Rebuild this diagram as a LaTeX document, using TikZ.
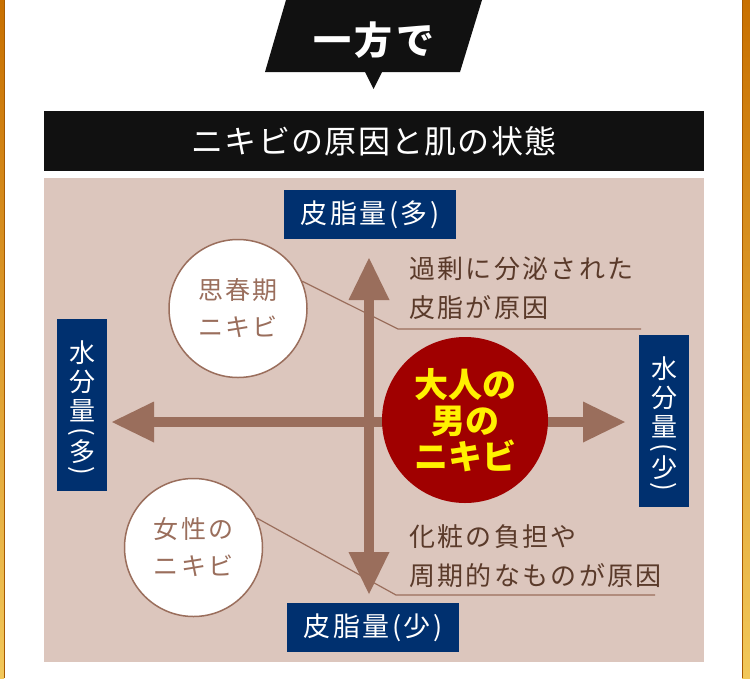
\documentclass[tikz,border=0pt]{standalone}
\usepackage{fontspec}
\newfontfamily\cjk{Noto Sans CJK JP}
\newfontfamily\cjksp[LetterSpace=9]{Noto Sans CJK JP}
\newfontfamily\cjkwide[LetterSpace=4]{Noto Sans CJK JP}
\newfontfamily\cjkbig[LetterSpace=10]{Noto Sans CJK JP}
\usetikzlibrary{arrows.meta}
\definecolor{beige}{HTML}{DCC6BD}
\definecolor{navy}{HTML}{00306F}
\definecolor{brownA}{HTML}{9A6E5C}
\definecolor{darkred}{HTML}{A00000}
\definecolor{yel}{HTML}{FFF100}
\definecolor{txtbrown}{HTML}{5A3A2A}
\definecolor{blk}{HTML}{111111}
\definecolor{goldtop}{HTML}{C87000}
\definecolor{goldbot}{HTML}{F2C85A}
\definecolor{goldline}{HTML}{A85A00}
\tikzset{
  navybox/.style={fill=navy, inner sep=0pt, text=white},
  vchar/.style={text=white, inner sep=0pt, font=\cjk\fontsize{26}{26}\selectfont},
  smallcircle/.style={circle, fill=white, draw=brownA, line width=1.5pt, minimum size=138pt, inner sep=0pt,
    text=brownA, align=center, font=\cjksp\fontsize{25}{37}\selectfont},
  axis/.style={brownA, line width=10pt,
    {Triangle[length=42pt,width=41pt,line width=0pt]}-{Triangle[length=42pt,width=41pt,line width=0pt]}},
  leader/.style={brownA, line width=1.2pt},
  note/.style={text=txtbrown, anchor=west, align=left, inner sep=0pt, font=\cjksp\fontsize{26}{39}\selectfont}
}
\begin{document}
\begin{tikzpicture}[x=1pt, y=-1pt]
\useasboundingbox (0,0) rectangle (750,678);
\fill[white] (0,0) rectangle (750,678);
% gold borders
\shade[top color=goldtop, bottom color=goldbot] (0,0) rectangle (4,678);
\shade[top color=goldtop, bottom color=goldbot] (742,0) rectangle (750,678);
\draw[goldline, line width=1pt] (4,0) -- (4,678);
\draw[goldline, line width=1pt] (742.5,0) -- (742.5,678);
% top banner
\fill[blk] (286,0) -- (482,0) -- (460,72) -- (382,72) -- (373.5,89) -- (365,72) -- (265,72) -- cycle;
\node[text=white, inner sep=0pt, font=\cjkbig\bfseries\fontsize{38}{38}\selectfont] (ippo) at (374,40) {一方で\hspace{-3.8pt}};
% title bar
\node[fill=blk, minimum width=660pt, minimum height=60pt, inner sep=0pt, text=white,
  font=\cjkwide\fontsize{32}{32}\selectfont] (title) at (374,141) {ニキビの原因と肌の状態\hspace{-1.3pt}};
% panel
\fill[beige] (44,178) rectangle (704,662);
% axes
\coordinate (vt) at (369,258);
\coordinate (vb) at (369,594);
\coordinate (hl) at (112,422);
\coordinate (hr) at (625,422);
\draw[axis] (vb) -- (vt);
\draw[axis] (hl) -- (hr);
% navy boxes
\node[navybox, minimum width=172pt, minimum height=49pt, font=\cjksp\fontsize{27}{27}\selectfont] (top) at (370,214.5) {皮脂量(多)};
\node[navybox, minimum width=172pt, minimum height=49pt, font=\cjksp\fontsize{27}{27}\selectfont] (bot) at (373,627.5) {皮脂量(少)};
\node[navybox, minimum width=50pt, minimum height=172pt] (wl) at (82,405) {};
\node[navybox, minimum width=50pt, minimum height=172pt] (wr) at (664,421) {};
\foreach \b/\c in {wl/多, wr/少}{
  \node[vchar] (\b1) at ([yshift=52pt]\b.center) {水};
  \node[vchar] (\b2) at ([yshift=23pt]\b.center) {分};
  \node[vchar] (\b3) at ([yshift=-6pt]\b.center) {量};
  \node[vchar, rotate=-90] (\b4) at ([yshift=-27pt]\b.center) {(};
  \node[vchar] (\b5) at ([yshift=-47pt]\b.center) {\c};
  \node[vchar, rotate=-90] (\b6) at ([yshift=-66pt]\b.center) {)};
}
% circles
\node[circle, fill=darkred, minimum size=166pt, inner sep=0pt, text=yel, align=center,
  font=\cjk\bfseries\fontsize{34}{36}\selectfont] (men) at (465,420) {大人の\\男の\\ニキビ};
\node[smallcircle] (teen) at (238,308.5) {思春期\\ニキビ};
\node[smallcircle] (women) at (193.5,547.5) {女性の\\ニキビ};
% notes
\node[note] (n1) at (409,288.5) {過剰に分泌された\\皮脂が原因};
\node[note] (n2) at (409,556) {化粧の負担や\\周期的なものが原因};
% leaders
\coordinate (k1) at (398,329);
\coordinate (e1) at (641,329);
\coordinate (k2) at (396,595);
\coordinate (e2) at (655,595);
\draw[leader] (teen.23.6) -- (k1) -- (e1);
\draw[leader] (women.25.6) -- (k2) -- (e2);
\end{tikzpicture}
\end{document}
